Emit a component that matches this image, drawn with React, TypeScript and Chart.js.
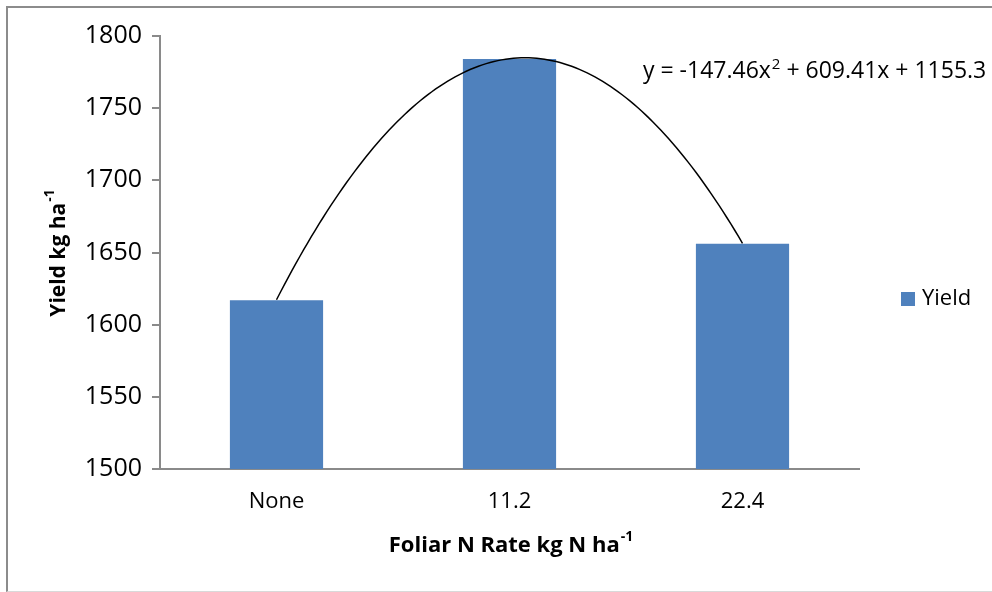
import React, { useEffect, useRef } from "react";
import { Chart, registerables } from "chart.js";

Chart.register(...registerables);

const categories = ["None", "11.2", "22.4"];
const yieldValues = [1617, 1784, 1656];
const trendCoefficients = [-147.46, 609.41, 1155.3]; // a, b, c of y = a x^2 + b x + c
const yTicks = { min: 1500, max: 1800, step: 50 };
const seriesName = "Yield";
const equationMain = "y = -147.46x";
const equationSup = "2";
const equationRest = " + 609.41x + 1155.3";
const yTitleMain = "Yield kg ha";
const xTitleMain = "Foliar N Rate kg N ha";
const titleSup = "-1";

const FONT = "'Open Sans', 'DejaVu Sans', sans-serif";
const BAR = "#4F81BD";
const AXIS = "#8a8a8a";

const overlay = {
  id: "overlay",
  afterDatasetsDraw(chart: any) {
    const ctx = chart.ctx;
    const xs = chart.scales.x;
    const ys = chart.scales.y;
    const [a, b, c] = trendCoefficients;
    ctx.save();
    ctx.beginPath();
    const n = 120;
    for (let i = 0; i <= n; i++) {
      const t = 1 + (2 * i) / n;
      const v = a * t * t + b * t + c;
      const px = xs.getPixelForValue(t - 1);
      const py = ys.getPixelForValue(v);
      if (i === 0) ctx.moveTo(px, py);
      else ctx.lineTo(px, py);
    }
    ctx.strokeStyle = "#000";
    ctx.lineWidth = 1.5;
    ctx.stroke();
    ctx.restore();
  },
  afterDraw(chart: any) {
    const ctx = chart.ctx;
    ctx.save();
    ctx.fillStyle = "#000";
    ctx.textBaseline = "alphabetic";
    // equation
    ctx.textAlign = "left";
    ctx.font = `23px ${FONT}`;
    let x = 643;
    const by = 78;
    ctx.fillText(equationMain, x, by);
    x += ctx.measureText(equationMain).width;
    ctx.font = `15px ${FONT}`;
    ctx.fillText(equationSup, x + 1, by - 9);
    x += ctx.measureText(equationSup).width + 1;
    ctx.font = `23px ${FONT}`;
    ctx.fillText(equationRest, x, by);

    // x title
    ctx.font = `bold 22px ${FONT}`;
    const wMain = ctx.measureText(xTitleMain).width;
    ctx.font = `bold 14px ${FONT}`;
    const wSup = ctx.measureText(titleSup).width;
    let sx = 511 - (wMain + wSup + 1) / 2;
    ctx.font = `bold 22px ${FONT}`;
    ctx.fillText(xTitleMain, sx, 552);
    ctx.font = `bold 14px ${FONT}`;
    ctx.fillText(titleSup, sx + wMain + 1, 541);

    // y title
    ctx.save();
    ctx.translate(57, 253);
    ctx.rotate(-Math.PI / 2);
    ctx.font = `bold 21px ${FONT}`;
    const yw = ctx.measureText(yTitleMain).width;
    ctx.font = `bold 14px ${FONT}`;
    const ysw = ctx.measureText(titleSup).width;
    const st = -(yw + ysw + 1) / 2;
    ctx.font = `bold 21px ${FONT}`;
    ctx.fillText(yTitleMain, st, 8);
    ctx.font = `bold 14px ${FONT}`;
    ctx.fillText(titleSup, st + yw + 1, -3);
    ctx.restore();

    // legend
    ctx.fillStyle = BAR;
    ctx.fillRect(901, 292, 14, 14);
    ctx.fillStyle = "#000";
    ctx.font = `22px ${FONT}`;
    ctx.textBaseline = "middle";
    ctx.fillText(seriesName, 922, 299);
    ctx.restore();
  },
};

export default function App() {
  const ref = useRef<HTMLCanvasElement | null>(null);
  useEffect(() => {
    if (!ref.current) return;
    const chart = new Chart(ref.current, {
      type: "bar",
      data: {
        labels: categories,
        datasets: [
          {
            label: seriesName,
            data: yieldValues,
            backgroundColor: BAR,
            borderWidth: 0,
            barPercentage: 0.4,
            categoryPercentage: 1,
          },
        ],
      },
      options: {
        responsive: false,
        animation: false,
        layout: { padding: { left: 0, right: 133, top: 36, bottom: 0 } },
        plugins: { legend: { display: false }, tooltip: { enabled: false } },
        scales: {
          x: {
            grid: { display: false, drawTicks: false },
            border: { display: true, color: AXIS, width: 2 },
            ticks: { color: "#000", font: { family: FONT, size: 22 }, padding: 20 },
            afterFit: (s: any) => {
              s.height = 123;
            },
          },
          y: {
            min: yTicks.min,
            max: yTicks.max,
            grid: { drawOnChartArea: false, drawTicks: true, tickLength: 8, color: AXIS, lineWidth: 2 },
            border: { display: true, color: AXIS, width: 2 },
            ticks: {
              stepSize: yTicks.step,
              color: "#000",
              font: { family: FONT, size: 25 },
              padding: 10,
              callback: (v: any) => String(v),
            },
            afterFit: (s: any) => {
              s.width = 160;
            },
          },
        },
      },
      plugins: [overlay],
    });
    return () => chart.destroy();
  }, []);
  return (
    <div>
      <div
        style={{
          position: "absolute",
          left: 6,
          top: 6,
          width: 1000,
          height: 583,
          borderLeft: "2px solid #8c8c8c",
          borderTop: "2px solid #8c8c8c",
          borderBottom: "1px solid #d9d9d9",
          background: "#fff",
        }}
      />
      <canvas
        ref={ref}
        width={992}
        height={592}
        style={{ position: "absolute", left: 0, top: 0, width: 992, height: 592 }}
      />
    </div>
  );
}
